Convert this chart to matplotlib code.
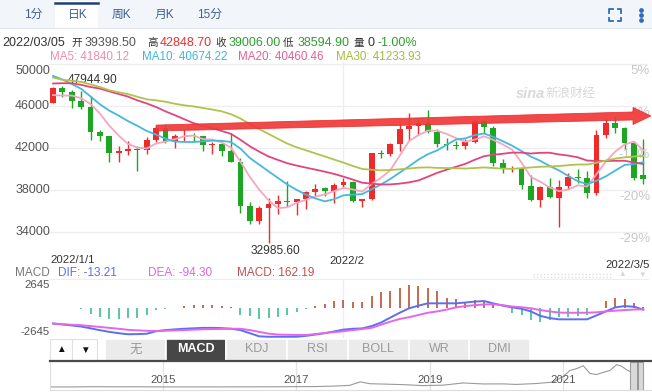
import numpy as np
import pandas as pd
import matplotlib
matplotlib.use("Agg")
import matplotlib.pyplot as plt
from matplotlib.patches import Rectangle, Polygon

plt.rcParams['font.family'] = ['Liberation Sans', 'Noto Sans CJK SC', 'DejaVu Sans']

W, H = 652, 392

# daily K, 2022/1/1 .. 2022/3/5
opens = [46311, 47680, 47343, 46459, 45899, 43565, 43153, 41561, 41734, 41910, 41819, 42742, 43946, 42598,
         43101, 43172, 43118, 42250, 42374, 41744, 40699, 36471, 35048, 36276, 36659, 36950, 36841, 37128,
         37780, 38151, 37921,
         38482, 38744, 36945, 37150, 41501, 41442, 42406, 43854, 44097, 44348, 43571, 42412, 42236, 42158,
         42586, 44578, 43938, 40553, 40022, 40118, 38424, 37069, 38285, 37278, 38334, 39214, 39098, 37707,
         43194, 44357, 43925, 42452, 39398.5]
highs = [47827, 47944.9, 47510, 47406, 46929, 43748, 43153, 42228, 42663, 42200, 43001, 44135, 44278, 43346,
         43724, 43436, 43179, 42534, 42478, 43413, 41060, 36836, 36433, 37247, 37545, 38825, 37148, 37952,
         38576, 38266, 38647,
         39116, 38834, 37154, 41527, 41847, 42500, 44401, 45293, 44727, 45661, 43810, 42992, 42693, 42876,
         44667, 44578, 44132, 40929, 40246, 40119, 39395, 38359, 39122, 38968, 39630, 40005, 39778, 43760,
         44793, 45077, 44021, 42506, 42848.7]
lows = [46288, 46856, 45835, 45752, 42798, 42645, 40672, 40673, 41338, 39796, 41407, 42528, 42447, 41982,
        42669, 42692, 41680, 41392, 41242, 40672, 35791, 34784, 34785, 32985.6, 35705, 36375, 35629, 36211,
        37407, 37406, 36733,
        38225, 36832, 36375, 37094, 41039, 41244, 41748, 42807, 43232, 43402, 42114, 41852, 41950, 41876,
        42491, 43456, 40249, 39638, 39704, 38113, 36950, 36394, 37201, 34459, 38112, 38676, 37268, 37518,
        42952, 43432, 41914, 38945, 38594.9]
closes = [47686, 47345, 46458, 45897, 43569, 43160, 41558, 41734, 41912, 41822, 42736, 43949, 42592, 43099,
          43177, 43113, 42250, 42375, 41744, 40680, 36457, 35030, 36276, 36654, 36954, 36852, 37138, 37784,
          38138, 37917, 38483,
          38743, 36952, 37154, 41500, 41441, 42412, 43840, 44118, 44338, 43565, 42407, 42244, 42197, 42586,
          44575, 43961, 40538, 40030, 40122, 38431, 37075, 38287, 37296, 38332, 39214, 39105, 37709, 43194,
          44354, 43925, 42452, 39148, 39006]
# closes before the window (2021/12/3 .. 12/31), only used to start the moving averages
dec_closes = [53598, 49201, 49369, 50583, 50700, 50505, 47672, 47243, 49363, 50098, 46737, 46613, 48897,
              47665, 46202, 46849, 46707, 46880, 48937, 48629, 50785, 50822, 50430, 50810, 50640, 47589,
              46445, 47178, 46306]

price_ticks = [34000, 38000, 42000, 46000, 50000]
date_labels = {0: '2022/1/1', 31: '2022/2', 63: '2022/3/5'}

# MACD panel
macd_hist = [50, 30, 0, -50, -600, -950, -1200, -1250, -1100, -1050, -700, -200, -30, 30, 250, 400, 400,
             350, 250, 100, -700, -900, -1250, -1100, -1000, -700, -450, -50, 250, 500, 800, 900, 700, 750,
             1400, 1800, 2000, 2300, 2600, 2550, 2300, 1900, 1150, 1000, 750, 950, 750, 350, 0, -550, -750,
             -1300, -1500, -1300, -950, -950, -850, -750, 50, 850, 1200, 1000, 550, 100]
dif = [-1710, -1820, -1930, -2050, -2250, -2460, -2650, -2800, -2920, -2900, -2860, -2580, -2450, -2370,
       -2300, -2250, -2200, -2200, -2230, -2300, -2450, -2800, -3150, -3200, -3200, -3200, -3200, -3100,
       -2950, -2800, -2600, -2400, -2300, -2260, -2000, -1600, -1050, -500, 0, 300, 560, 560, 560, 560, 650,
       750, 820, 550, 300, 100, -50, -350, -850, -1100, -1240, -1240, -1240, -1240, -800, -350, 100, 250,
       180, -150]
dea = [-1710, -1780, -1850, -1900, -2000, -2100, -2200, -2300, -2420, -2480, -2530, -2550, -2520, -2490,
       -2450, -2400, -2360, -2340, -2320, -2300, -2300, -2450, -2650, -2850, -2950, -2980, -3000, -3000,
       -2900, -2780, -2680, -2580, -2450, -2330, -2200, -1850, -1500, -1200, -1000, -750, -500, -350, -150,
       100, 250, 350, 430, 450, 350, 200, 120, 0, -200, -350, -480, -500, -500, -500, -450, -350, -270,
       -200, -140, -110]
macd_ticks = [2645, -2645]

# navigator, long range price
nav_years = [2013.3, 2013.6, 2013.9, 2014.0, 2014.3, 2014.6, 2014.9, 2015.2, 2015.5, 2015.8, 2016.1, 2016.4,
             2016.7, 2017.0, 2017.3, 2017.6, 2017.8, 2017.96, 2018.1, 2018.3, 2018.6, 2018.9, 2019.2, 2019.5,
             2019.8, 2020.1, 2020.3, 2020.6, 2020.85, 2021.0, 2021.1, 2021.2, 2021.3, 2021.4, 2021.5, 2021.6,
             2021.7, 2021.8, 2021.87, 2021.95, 2022.05, 2022.17]
nav_prices = [120, 110, 700, 800, 450, 600, 350, 250, 260, 240, 430, 450, 600, 1000, 1200, 2700, 4500, 14000,
              9000, 8000, 6500, 3800, 5000, 11000, 8300, 8500, 7000, 9500, 13500, 29000, 45000, 50000, 58000,
              37000, 34000, 40000, 45000, 61000, 57000, 47000, 37000, 39000]
nav_year_ticks = [2015, 2017, 2019, 2021]

top_tabs = ['1分', '日K', '周K', '月K', '15分']
ind_tabs = ['无', 'MACD', 'KDJ', 'RSI', 'BOLL', 'WR', 'DMI']

RED = '#ee2b2b'
GREEN = '#1fa524'
GRID = '#eeeeee'

opens = np.array(opens); highs = np.array(highs); lows = np.array(lows); closes_a = np.array(closes)
days = np.arange(len(closes))

fig = plt.figure(figsize=(W / 100, H / 100), dpi=100)
fig.patch.set_facecolor('white')


def px_axes(x0, y0, x1, y1, **kw):
    return fig.add_axes([x0 / W, 1 - y1 / H, (x1 - x0) / W, (y1 - y0) / H], **kw)


def clean(a):
    a.set_xticks([]); a.set_yticks([])
    for s in a.spines.values():
        s.set_visible(False)


XLIM = (-0.43, 63.5)

# ---- main K chart
ax = px_axes(49, 62, 648, 255)
clean(ax)
ax.set_xlim(*XLIM)
ax.set_ylim(31810, 50190)
for p in price_ticks:
    ax.axhline(p, color=GRID, lw=0.9, zorder=0)
    ax.annotate(str(p), xy=(0, p), xycoords=('axes fraction', 'data'),
                xytext=(1, -7 if p == 50000 else 0), textcoords='offset pixels',
                ha='right', va='center', fontsize=9, color='#555555')
    pct = round((p / closes[0] - 1) * 100)
    ax.annotate(f'{pct}%', xy=(1, p), xycoords=('axes fraction', 'data'),
                xytext=(2, -7), textcoords='offset pixels',
                ha='right', va='center', fontsize=9.5, color='#c8c8c8', zorder=1)
ax.axvline(31, color=GRID, lw=0.9, zorder=0)

up = closes_a >= opens
cols = np.where(up, RED, GREEN)
ax.vlines(days, lows, highs, colors=cols, lw=1, zorder=2)
bottoms = np.minimum(opens, closes_a)
heights = np.maximum(np.abs(closes_a - opens), 70)
ax.bar(days, heights, bottom=bottoms, width=0.62, color=cols, linewidth=0, zorder=3)

all_c = pd.Series(dec_closes + closes, dtype=float)
for n, c in [(5, '#f6a6c1'), (10, '#45b9dd'), (20, '#e2457e'), (30, '#b3c24a')]:
    ma = all_c.rolling(n).mean().to_numpy()[len(dec_closes):]
    ax.plot(days, ma, color=c, lw=1.3, zorder=4)

# extremes
imax = int(np.argmax(highs)); imin = int(np.argmin(lows))
ax.annotate(f'{highs[imax]:.2f}', xy=(imax, highs[imax]), xytext=(5, 6), textcoords='offset pixels',
            ha='left', va='center', fontsize=8.6, color='#333333')
ax.annotate(f'{lows[imin]:.2f}', xy=(imin, lows[imin]), xytext=(7, -8), textcoords='offset pixels',
            ha='center', va='center', fontsize=8.6, color='#333333')

# dates
for d, lab in date_labels.items():
    if d == 0:
        ax.annotate(lab, xy=(0, 0), xycoords='axes fraction', xytext=(1, -5), textcoords='offset pixels',
                    ha='left', va='center', fontsize=8.2, color='#333333', annotation_clip=False)
    elif d == len(closes) - 1:
        ax.annotate(lab, xy=(1, 0), xycoords='axes fraction', xytext=(2, -10), textcoords='offset pixels',
                    ha='right', va='center', fontsize=8.2, color='#333333', annotation_clip=False)
    else:
        ax.annotate(lab, xy=(d, 0), xycoords=('data', 'axes fraction'), xytext=(3, -6),
                    textcoords='offset pixels', ha='center', va='center', fontsize=8.2, color='#333333',
                    annotation_clip=False)

# trend arrow annotation
tail_x, tail_y, tail_w = 11.0, 43900, 280
head_x, head_y, shaft_w, head_w, tip_x = 61.9, 45050, 380, 810, 63.8
arrow = Polygon([(tail_x, tail_y + tail_w), (head_x, head_y + shaft_w), (head_x, head_y + head_w),
                 (tip_x, head_y), (head_x, head_y - head_w), (head_x, head_y - shaft_w),
                 (tail_x, tail_y - tail_w)], closed=True, fc='#f23a3a', ec='#e83030', lw=0.6,
                alpha=0.93, zorder=6, clip_on=False)
ax.add_patch(arrow)

# ---- MACD panel
mx = px_axes(49, 279, 648, 338)
clean(mx)
mx.spines['top'].set_visible(True)
mx.spines['top'].set_color('#eeeeee')
mx.set_xlim(*XLIM)
mx.set_ylim(-3340, 3296)
mx.axvline(31, color=GRID, lw=0.9, zorder=0)
hist = np.array(macd_hist)
mx.vlines(days, 0, hist, colors=np.where(hist >= 0, '#bb5230', '#3dbb95'), lw=1.2, zorder=2)
mx.plot(days, dif, color='#5b6ff0', lw=1.4, zorder=3)
mx.plot(days, dea, color='#e466ea', lw=1.4, zorder=3)
for t in macd_ticks:
    mx.annotate(str(t), xy=(0, t), xycoords=('axes fraction', 'data'), xytext=(1, 0),
                textcoords='offset pixels', ha='right', va='center', fontsize=8.2, color='#555555')

# ---- navigator
nv = px_axes(50, 362, 652, 390)
nv.set_xticks([]); nv.set_yticks([])
for s in nv.spines.values():
    s.set_color('#dddddd')
nv.spines['top'].set_visible(False)
nv.set_xlim(2013.31, 2022.33)
nv.set_ylim(-8180, 68180)
for yr in nav_year_ticks:
    nv.axvline(yr, color='#e2e2e2', lw=0.9, zorder=0)
    nv.annotate(str(yr), xy=(yr, 0.36), xycoords=('data', 'axes fraction'), ha='center', va='center',
                fontsize=8.2, color='#555555')
nv.plot(nav_years, nav_prices, color='#9a9a9a', lw=0.8, zorder=2)
nv.axvspan(2022.0, 2022.2, fc='#d9d9d9', ec='#9f9f9f', lw=0.8, zorder=3)
nv.axvline(2022.12, color='#8a8a8a', lw=1.2, zorder=4)

# ---- overlay: tabs, titles, controls
ov = fig.add_axes([0, 0, 1, 1], zorder=10)
ov.patch.set_alpha(0)
ov.axis('off')
ov.set_xlim(0, W); ov.set_ylim(H, 0)

ov.add_patch(Rectangle((0, 0), W, 28, fc='#f2f5f9', ec='none'))
ov.plot([0, W], [28, 28], color='#e1e6ee', lw=0.8)
ov.add_patch(Rectangle((55, 1), 43, 27.5, fc='white', ec='none'))
ov.plot([55, 98], [2.5, 2.5], color='#203f7a', lw=1.8)
for xc, lab in zip([33, 77.5, 121, 164, 209.5], top_tabs):
    ov.text(xc, 15, lab, ha='center', va='center', fontsize=8.5, color='#3d5f95')

# expand icon and menu dots
icol = '#2c6cb8'
for cx, cy, dx, dy in [(609, 9, 1, 1), (621, 9, -1, 1), (609, 21, 1, -1), (621, 21, -1, -1)]:
    ov.plot([cx + dx * 3.5, cx, cx], [cy, cy, cy + dy * 3.5], color=icol, lw=1.3)
ov.plot([641, 641, 641], [10, 15, 20], 'o', color=icol, ms=2.4)

# info line: numbers a bit larger than the CJK labels
info = [(2, '2022/03/05', '#333333'), (71, '开', '#333333'), (85, '39398.50', '#555555'),
        (147, '高', '#333333'), (160, '42848.70', '#e8322e'), (215, '收', '#333333'),
        (229, '39006.00', '#2e9e2e'), (283, '低', '#333333'), (298, '38594.90', '#2e9e2e'),
        (354, '量', '#333333'), (368, '0', '#333333'), (378, '-1.00%', '#2e9e2e')]
for x, s, c in info:
    cjk = len(s) == 1 and ord(s) > 0x2000
    ov.text(x, 43, s, ha='left', va='center', fontsize=7.6 if cjk else 9, color=c)
ma_txt = [(50, 'MA5: 41840.12', '#f28bb0'), (142, 'MA10: 40674.22', '#3fb6dc'),
          (238, 'MA20: 40460.46', '#e2609c'), (336, 'MA30: 41233.93', '#a8b83a')]
for x, s, c in ma_txt:
    ov.text(x, 57, s, ha='left', va='center', fontsize=8.4, color=c)

# watermark
ov.text(516, 94, 'sina', ha='left', va='center', fontsize=10.5, style='italic', weight='bold',
        color='#dadada')
ov.text(545, 94, '新浪财经', ha='left', va='center', fontsize=9, color='#d8d8d8')

# MACD title
macd_txt = [(15, 'MACD', '#777777'), (58, 'DIF: -13.21', '#5b6ff0'), (148, 'DEA: -94.30', '#dd66dd'),
            (237, 'MACD: 162.19', '#c0504d')]
for x, s, c in macd_txt:
    ov.text(x, 272.5, s, ha='left', va='center', fontsize=8.5, color=c)
ov.plot([533, 613], [273.5, 273.5], color='#dedede', lw=1, ls=(0, (1, 1.5)))
ov.plot([533, 613], [276.5, 276.5], color='#dedede', lw=1, ls=(0, (1, 1.5)))
ov.text(622, 275, '▲', ha='center', va='center', fontsize=5.5, color='#d6d6d6')
ov.text(642, 275, '▼', ha='center', va='center', fontsize=5.5, color='#d6d6d6')

# indicator tabs
ov.add_patch(Rectangle((50, 339), 22, 21.5, fc='white', ec='#e0e0e0', lw=0.8))
ov.add_patch(Rectangle((72, 339), 25, 21.5, fc='white', ec='#e0e0e0', lw=0.8))
ov.text(60.5, 349.5, '▲', ha='center', va='center', fontsize=7, color='#111111')
ov.text(84.5, 349.5, '▼', ha='center', va='center', fontsize=7, color='#111111')
tw = 60.7
for k, name in enumerate(ind_tabs):
    sel = name == 'MACD'
    x0 = 105 + k * tw
    ov.add_patch(Rectangle((x0, 339), tw, 21.5, fc='#474747' if sel else '#ebebeb', ec='white', lw=1.2))
    ov.text(x0 + tw / 2, 349.5, name, ha='center', va='center', fontsize=9,
            color='white' if sel else '#9a9a9a', weight='bold' if sel else 'normal')
ov.plot([50, W], [361.3, 361.3], color='#4a4a4a', lw=1.6)

fig.savefig('out.png', dpi=100, facecolor='white')
